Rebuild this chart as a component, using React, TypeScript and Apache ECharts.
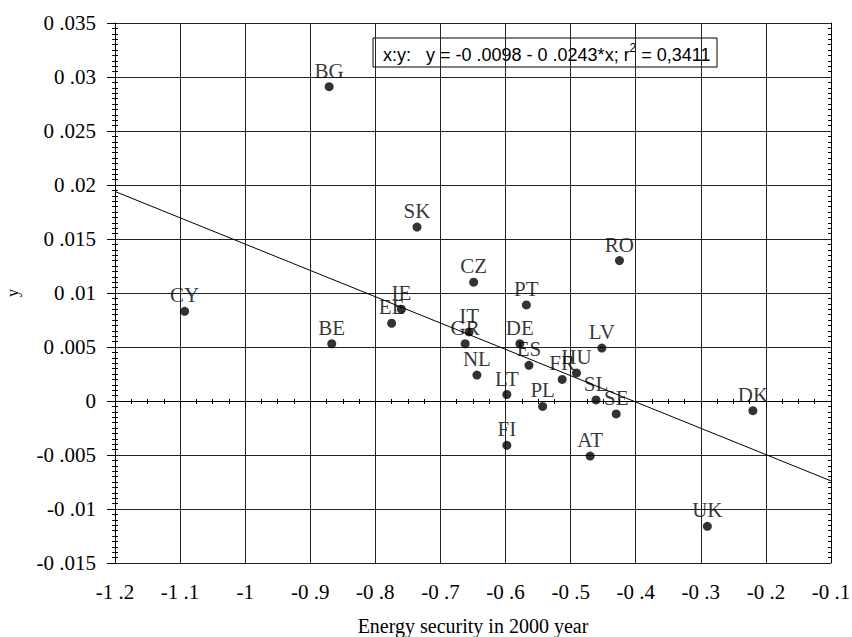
import React, { useEffect, useRef } from "react";
import * as echarts from "echarts";

const countries = ["BG", "SK", "CZ", "PT", "IE", "EE", "BE", "IT", "GR", "DE", "ES", "NL", "LT", "PL", "FR", "HU", "LV", "SL", "SE", "RO", "DK", "CY", "FI", "AT", "UK"];
const xValues = [-0.871, -0.736, -0.649, -0.568, -0.760, -0.775, -0.867, -0.656, -0.662, -0.578, -0.564, -0.644, -0.598, -0.543, -0.513, -0.491, -0.452, -0.461, -0.430, -0.425, -0.220, -1.093, -0.598, -0.470, -0.290];
const yValues = [0.0291, 0.0161, 0.0110, 0.0089, 0.0085, 0.0072, 0.0053, 0.0064, 0.0053, 0.0053, 0.0033, 0.0024, 0.0006, -0.0005, 0.0020, 0.0026, 0.0049, 0.0001, -0.0012, 0.0130, -0.0009, 0.0083, -0.0041, -0.0051, -0.0116];
const fitX = [-1.2, -0.1];
const fitY = [0.0194, -0.0074];
const xAxisRange = [-1.2, -0.1];
const yAxisRange = [-0.015, 0.035];
const xInterval = 0.1;
const yInterval = 0.005;
const xTitle = "Energy security in 2000 year";
const yTitle = "y";
const legendMain = "x:y:   y = -0 .0098 - 0 .0243*x; r";
const legendSup = "2";
const legendTail = " = 0,3411";

const SERIF = "'Liberation Serif', 'Times New Roman', serif";
const SANS = "'Liberation Sans', Arial, sans-serif";

const fmt = (v: number) => String(+v.toFixed(4)).replace(".", " .");

export default function App() {
  const ref = useRef<HTMLDivElement>(null);
  useEffect(() => {
    if (!ref.current) return;
    const chart = echarts.init(ref.current, null, { renderer: "svg" });
    const points = countries.map((c, i) => ({ name: c, value: [xValues[i], yValues[i]] }));
    const fit = fitX.map((x, i) => [x, fitY[i]]);
    const gridColor = "#222";
    const baseX = { type: "value", min: xAxisRange[0], max: xAxisRange[1], interval: xInterval };
    const baseY = { type: "value", min: yAxisRange[0], max: yAxisRange[1], interval: yInterval };
    chart.setOption({
      animation: false,
      backgroundColor: "#fff",
      grid: { left: 115, right: 21, top: 23, bottom: 74, containLabel: false, outerBoundsMode: "none" },
      xAxis: [
        {
          ...baseX,
          position: "bottom",
          name: xTitle,
          nameLocation: "middle",
          nameGap: 53,
          nameTextStyle: { fontFamily: SERIF, fontSize: 20, color: "#000" },
          axisLine: { show: true, lineStyle: { color: "#000", width: 1 } },
          axisTick: { show: true, inside: false, length: 7, lineStyle: { color: "#000" } },
          minorTick: { show: true, splitNumber: 4, length: 3, lineStyle: { color: "#000" } },
          axisLabel: { formatter: fmt, fontFamily: SERIF, fontSize: 21, color: "#000", margin: 18 },
          splitLine: { show: true, lineStyle: { color: gridColor, width: 1 } },
        },
        {
          ...baseX,
          position: "bottom",
          axisLine: { show: false },
          axisTick: { show: false, inside: true },
          minorTick: { show: true, splitNumber: 4, length: 2, lineStyle: { color: "#000" } },
          axisLabel: { show: false },
          splitLine: { show: false },
        },
        {
          ...baseX,
          position: "top",
          axisLine: { show: true, lineStyle: { color: "#000", width: 1 } },
          axisTick: { show: false, inside: true },
          minorTick: { show: true, splitNumber: 4, length: 3, lineStyle: { color: "#000" } },
          axisLabel: { show: false },
          splitLine: { show: false },
        },
      ],
      yAxis: [
        {
          ...baseY,
          position: "left",
          name: yTitle,
          nameLocation: "middle",
          nameGap: 95,
          nameTextStyle: { fontFamily: SERIF, fontSize: 16, color: "#000" },
          axisLine: { show: true, lineStyle: { color: "#000", width: 1 } },
          axisTick: { show: true, inside: false, length: 8, lineStyle: { color: "#000" } },
          minorTick: { show: true, splitNumber: 10, length: 3, lineStyle: { color: "#000" } },
          axisLabel: { formatter: fmt, fontFamily: SERIF, fontSize: 21, color: "#000", margin: 19 },
          splitLine: { show: true, lineStyle: { color: gridColor, width: 1 } },
        },
        {
          ...baseY,
          position: "left",
          axisLine: { show: false },
          axisTick: { show: false, inside: true },
          minorTick: { show: true, splitNumber: 10, length: 3, lineStyle: { color: "#000" } },
          axisLabel: { show: false },
          splitLine: { show: false },
        },
        {
          ...baseY,
          position: "right",
          axisLine: { show: true, lineStyle: { color: "#000", width: 1 } },
          axisTick: { show: false, inside: true },
          minorTick: { show: true, splitNumber: 10, length: 3, lineStyle: { color: "#000" } },
          axisLabel: { show: false },
          splitLine: { show: false },
        },
      ],
      series: [
        {
          type: "line",
          data: fit,
          xAxisIndex: 0,
          yAxisIndex: 0,
          symbol: "none",
          lineStyle: { color: "#000", width: 1 },
          silent: true,
          z: 3,
        },
        {
          type: "scatter",
          data: points,
          xAxisIndex: 0,
          yAxisIndex: 0,
          symbol: "circle",
          symbolSize: 9,
          itemStyle: { color: "#000" },
          label: {
            show: true,
            position: "top",
            distance: 1,
            formatter: (p: any) => p.name,
            fontFamily: SERIF,
            fontSize: 21,
            color: "#000",
          },
          labelLayout: { hideOverlap: false },
          z: 4,
        },
      ],
      graphic: [
        {
          type: "group",
          z: 100,
          children: [
            {
              type: "rect",
              shape: { x: 373, y: 38, width: 344, height: 29 },
              style: { fill: "#fff", stroke: "#000", lineWidth: 1 },
            },
            {
              type: "text",
              x: 383,
              y: 53,
              style: {
                text: `{a|${legendMain}}{s|${legendSup}}{a|${legendTail}}`,
                verticalAlign: "middle",
                rich: {
                  a: { fontFamily: SANS, fontSize: 18, lineHeight: 22, fill: "#000", verticalAlign: "bottom" },
                  s: { fontFamily: SANS, fontSize: 12, lineHeight: 22, fill: "#000", verticalAlign: "top" },
                },
              },
            },
          ],
        },
      ],
    });
    return () => chart.dispose();
  }, []);
  return (
    <div
      ref={ref}
      style={{ position: "absolute", left: 0, top: 0, width: 852, height: 637, background: "#fff" }}
    />
  );
}
